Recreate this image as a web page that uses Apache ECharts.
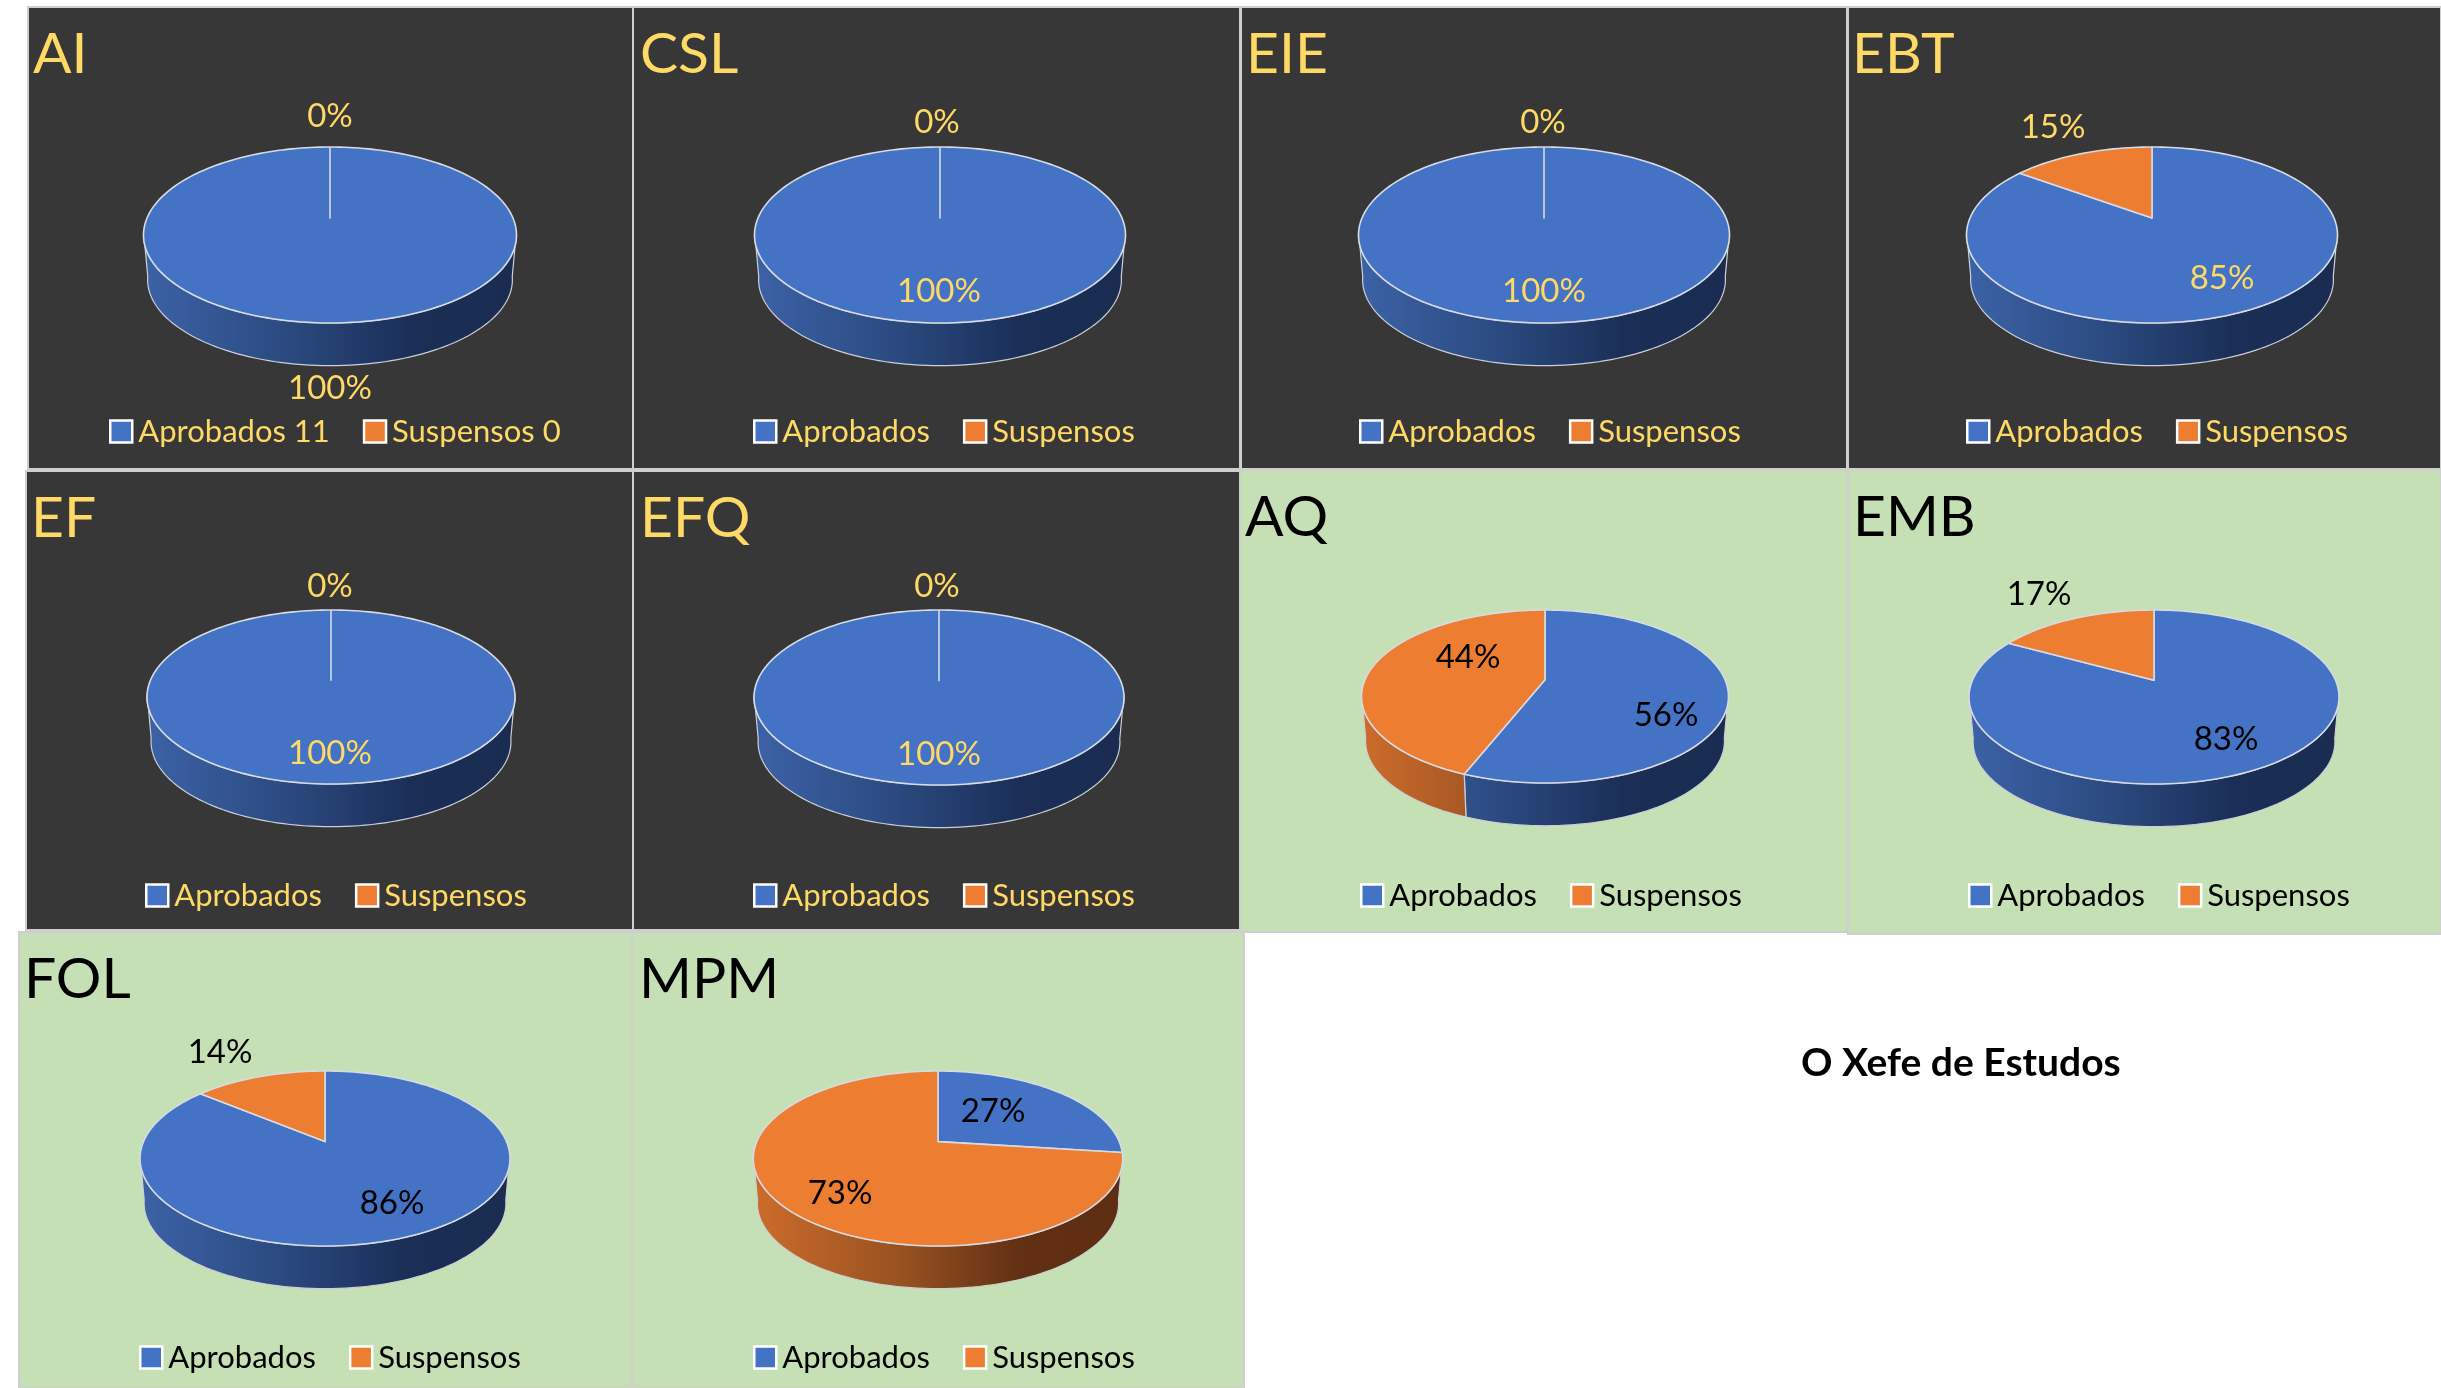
<!DOCTYPE html>
<html><head><meta charset="utf-8">
<style>html,body{margin:0;padding:0;background:#fff}#c{width:2441px;height:1388px}</style>
<script src="https://cdn.jsdelivr.net/npm/echarts@6/dist/echarts.min.js"></script>
</head><body><div id="c"></div>
<script>
// ---- data
const subjects = ['AI','CSL','EIE','EBT','EF','EFQ','AQ','EMB','FOL','MPM'];
const aprobados = [100,100,100,85,100,100,56,83,86,27];
const suspensos = [0,0,0,15,0,0,44,17,14,73];
const legendAprobados = ['Aprobados 11','Aprobados','Aprobados','Aprobados','Aprobados','Aprobados','Aprobados','Aprobados','Aprobados','Aprobados'];
const legendSuspensos = ['Suspensos 0','Suspensos','Suspensos','Suspensos','Suspensos','Suspensos','Suspensos','Suspensos','Suspensos','Suspensos'];
const signature = 'O Xefe de Estudos';

// ---- layout (pixels), separate from data
const panelRects = [[28,7,605,462],[633,7,607,462],[1241,7,606,462],[1848,7,593,462],
  [26,471,607,459],[633,471,607,459],[1240,470,607,462],[1848,470,593,464],
  [19,932,613,456],[632,932,612,456]];
const dark = [1,1,1,1,1,1,0,0,0,0];
const pies = [[330,147,186.5,176],[940,147,185.5,176],[1544,147,185.5,176],[2152,147,185.5,176],
  [331,610,184,174],[939,610,185,175],[1545,610,183.5,173],[2154,610,185,174],
  [325,1071,185,175],[938,1071,184.7,175]];
const labelA = [[330,388],[939,291],[1544,291],[2222,278],[330,753],[939,754],[1666,715],[2226,739],[392,1203],[993,1111]];
const labelS = [[330,116],[937,122],[1543,122],[2053,127],[330,586],[937,586],[1468,657],[2039,594],[220,1052],[840,1193]];
const titlePos = [[33,55],[640,55],[1246,55],[1852,55],[31,519],[640,519],[1245,518],[1853,518],[24,980],[639,980]];
const legendLeft = [109,753,1359,1966,145,753,1360,1968,139,753];
const legendY = [431,431,431,431,895,895,895,895,1357,1357];
const FONT = 'Lato, "Open Sans", sans-serif';
const GOLD = '#ffd966', BLUE = '#4472c4', ORANGE = '#ed7d31';
const RIM = '#d6dbe4';
const K = 0.193, DEPTH = 45, SHRINK = 0.978;

function project(p, pct){
  const a = p[3]*(1-K*K)/2, b = p[2]*Math.sqrt(1-K*K);
  const phi = pct/100*2*Math.PI, u = Math.sin(phi), v = -Math.cos(phi), w = 1-K*v;
  return [b*u/w, a*v/w, p[1]+a/(1+K)];
}
function topPt(p,pct){const q=project(p,pct);return [p[0]+q[0],q[2]+q[1]];}
function botPt(p,pct){const q=project(p,pct);return [p[0]+q[0]*SHRINK,q[2]+q[1]*SHRINK+DEPTH];}
function range(s,e){const r=[];const n=Math.max(2,Math.ceil((e-s)*2));for(let i=0;i<=n;i++)r.push(s+(e-s)*i/n);return r;}

function sideGradient(p,isBlue){
  const stops = isBlue
    ? [[0,'#3c62a6'],[0.38,'#2b4a80'],[0.72,'#1a2e57'],[1,'#1a2c50']]
    : [[0,'#cc6c2a'],[0.38,'#9b5322'],[0.72,'#623013'],[1,'#5e2e12']];
  return new echarts.graphic.LinearGradient(p[0]-p[2],0,p[0]+p[2],0,stops.map(s=>({offset:s[0],color:s[1]})),true);
}

function makeRender(isA){
  return function(params, api){
    const i = api.value(0), val = api.value(1), p = pies[i];
    const start = isA ? 0 : aprobados[i], end = isA ? val : 100;
    const children = [];
    if (val > 0){
      const s2 = Math.max(start,27.5), e2 = Math.min(end,72.5);
      if (e2 > s2){
        const r = range(s2,e2);
        const pts = r.map(x=>topPt(p,x)).concat(r.slice().reverse().map(x=>botPt(p,x)));
        children.push({type:'polygon',shape:{points:pts},style:{fill:sideGradient(p,isA),stroke:'#ccd0d6',lineWidth:1.2,opacity:1}});
      }
      const q = project(p,0);
      const apex = [p[0],q[2]];
      const pts = [apex].concat(range(start,end).map(x=>topPt(p,x)));
      children.push({type:'polygon',shape:{points:pts},style:{fill:isA?BLUE:ORANGE,stroke:RIM,lineWidth:1.6,lineJoin:'round'}});
    }
    const lp = (isA?labelA:labelS)[i];
    children.push({type:'text',z2:50,style:{text:Math.round(val)+'%',x:lp[0],y:lp[1],align:'center',verticalAlign:'middle',
      fill:dark[i]?GOLD:'#000',font:'400 33px '+FONT}});
    return {type:'group',children};
  };
}

const chart = echarts.init(document.getElementById('c'),null,{renderer:'canvas',width:2441,height:1388});
const legends = subjects.map((s,i)=>({
  left:legendLeft[i], top:legendY[i]-15, orient:'horizontal', padding:0, itemGap:33, itemWidth:22, itemHeight:22,
  selectedMode:false, icon:'rect',
  textStyle:{color:dark[i]?GOLD:'#000',fontFamily:FONT,fontSize:31,padding:[0,0,0,1]},
  itemStyle:{borderColor:'#fff',borderWidth:2.5},
  data:['Aprobados','Suspensos'],
  formatter:n=> n==='Aprobados'?legendAprobados[i]:legendSuspensos[i]
}));
const titles = subjects.map((s,i)=>({
  text:s, left:titlePos[i][0], top:titlePos[i][1]-34, padding:0,
  textStyle:{color:dark[i]?GOLD:'#000',fontFamily:FONT,fontWeight:400,fontSize:57,lineHeight:68}
}));
titles.push({text:signature,left:1801,top:1041,padding:0,textStyle:{color:'#000',fontFamily:FONT,fontWeight:700,fontSize:39,lineHeight:44}});

chart.setOption({
  animation:false,
  backgroundColor:'#fff',
  title:titles,
  legend:legends,
  tooltip:{show:false},
  graphic:{elements:panelRects.map((r,i)=>({type:'rect',silent:true,z:-1,shape:{x:r[0],y:r[1],width:r[2],height:r[3]},
    style:{fill:dark[i]?'#383737':'#c5e0b4',stroke:'#cfcfcf',lineWidth:2}}))},
  series:[
    {name:'Aprobados',type:'custom',coordinateSystem:'none',silent:true,itemStyle:{color:BLUE},renderItem:makeRender(true),
      data:aprobados.map((v,i)=>[i,v])},
    {name:'Suspensos',type:'custom',coordinateSystem:'none',silent:true,itemStyle:{color:ORANGE},renderItem:makeRender(false),
      data:suspensos.map((v,i)=>[i,v])}
  ]
});
</script></body></html>
